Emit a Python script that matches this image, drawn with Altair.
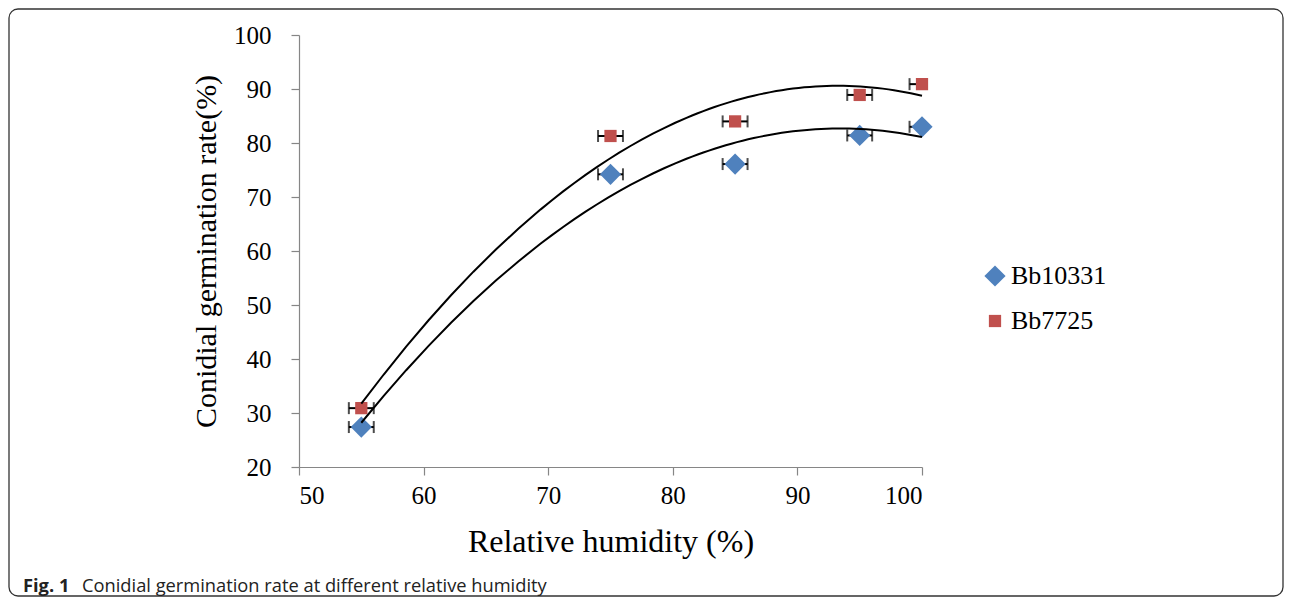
import altair as alt
import pandas as pd

# ---- data ----
humidity = [55, 75, 85, 95, 100]
bb10331 = [27.4, 74.2, 76.1, 81.4, 83.0]
bb7725 = [30.9, 81.3, 84.0, 88.9, 90.9]
x_err = [1.0, 1.0, 1.0, 1.0, 1.0]

series_names = ["Bb10331", "Bb7725"]
series_colors = ["#4F81BD", "#C0504D"]
series_shapes = ["diamond", "square"]
series_sizes = [450, 150]

x_ticks = [50, 60, 70, 80, 90, 100]
y_ticks = [20, 30, 40, 50, 60, 70, 80, 90, 100]

x_title = "Relative humidity (%)"
y_title = "Conidial germination rate(%)"
caption_bold = ["Fig. 1"]
caption_text = ["Conidial germination rate at different relative humidity"]

rows = []
for name, vals in zip(series_names, [bb10331, bb7725]):
    for h, v, e in zip(humidity, vals, x_err):
        rows.append({"series": name, "x": h, "y": v, "lo": h - e, "hi": h + e})
df = pd.DataFrame(rows)

W, H = 623, 432

xs = alt.Scale(domain=[50, 100], nice=False, zero=False)
ys = alt.Scale(domain=[20, 100], nice=False, zero=False)

x_axis = alt.Axis(values=x_ticks, title=x_title, grid=False)
y_axis = alt.Axis(values=y_ticks, title=y_title, grid=False)

color_enc = alt.Color("series:N", scale=alt.Scale(domain=series_names, range=series_colors),
                      legend=alt.Legend(title=None))
shape_enc = alt.Shape("series:N", scale=alt.Scale(domain=series_names, range=series_shapes),
                      legend=alt.Legend(title=None))
size_enc = alt.Size("series:N", scale=alt.Scale(domain=series_names, range=series_sizes),
                    legend=alt.Legend(title=None))

base = alt.Chart(df)

err_rule = base.mark_rule(color="black", strokeWidth=2, clip=True).encode(
    x=alt.X("lo:Q", scale=xs, axis=x_axis),
    x2="hi:Q",
    y=alt.Y("y:Q", scale=ys, axis=y_axis),
)

err_caps = base.transform_fold(["lo", "hi"], as_=["side", "xc"]).mark_tick(
    color="black", orient="vertical", size=12, thickness=2, clip=True
).encode(
    x=alt.X("xc:Q", scale=xs, axis=x_axis),
    y=alt.Y("y:Q", scale=ys, axis=y_axis),
)

points = base.mark_point(filled=True, opacity=1).encode(
    x=alt.X("x:Q", scale=xs, axis=x_axis),
    y=alt.Y("y:Q", scale=ys, axis=y_axis),
    color=color_enc,
    shape=shape_enc,
    size=size_enc,
)

trend = base.transform_regression(
    "x", "y", groupby=["series"], method="poly", order=2
).mark_line(color="black", strokeWidth=2).encode(
    x=alt.X("x:Q", scale=xs, axis=x_axis),
    y=alt.Y("y:Q", scale=ys, axis=y_axis),
    detail="series:N",
)

one = pd.DataFrame({"b": caption_bold, "t": caption_text})

cap_bold = alt.Chart(one).mark_text(
    font="Open Sans", fontWeight="bold", fontSize=18.3, align="left", baseline="alphabetic",
    color="#222222"
).encode(text="b:N", x=alt.value(-276), y=alt.value(557))

cap_text = alt.Chart(one).mark_text(
    font="Open Sans", fontSize=18.3, align="left", baseline="alphabetic", color="#222222"
).encode(text="t:N", x=alt.value(-217), y=alt.value(557))

border = alt.Chart(one).mark_rect(
    filled=False, fill=None, stroke="#333333", strokeWidth=1.3, cornerRadius=9
).encode(x=alt.value(-290), x2=alt.value(984), y=alt.value(-26), y2=alt.value(561))

chart = alt.layer(border, err_rule, err_caps, points, trend, cap_bold, cap_text).properties(
    width=W, height=H,
    autosize=alt.AutoSizeParams(type="none"),
    padding={"left": 291, "top": 27, "right": 362, "bottom": 130},
).configure_view(stroke=None).configure_axis(
    domainColor="#868686", tickColor="#868686", domainWidth=1.2, tickWidth=1.2, tickSize=8,
    labelFont="Liberation Serif", labelFontSize=25, labelColor="black",
    titleFont="Liberation Serif", titleColor="black", titleFontWeight="normal",
).configure_axisX(
    labelPadding=8, titlePadding=18, titleFontSize=32,
).configure_axisY(
    labelPadding=20, titlePadding=12, titleFontSize=30,
).configure_legend(
    orient="none", legendX=683, legendY=228, labelFont="Liberation Serif", labelFontSize=26,
    labelColor="black", rowPadding=19, labelOffset=3, symbolStrokeWidth=0,
)

chart.save("out.html", embed_options={"renderer": "svg", "actions": False})
